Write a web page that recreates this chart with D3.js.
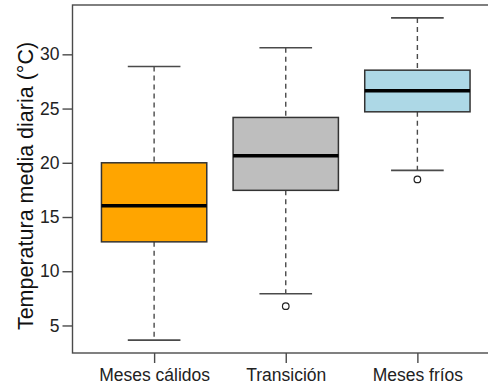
<!DOCTYPE html>
<html>
<head>
<meta charset="utf-8">
<script src="https://cdn.jsdelivr.net/npm/d3@7"></script>
<style>
  html, body { margin: 0; padding: 0; background: #fff; }
  svg { display: block; font-family: "Liberation Sans", Arial, sans-serif; }
</style>
</head>
<body>
<svg id="chart" width="488" height="387"></svg>
<script>
// Daily mean temperature by season group
const categories = ["Meses cálidos", "Transición", "Meses fríos"];
const lowerWhisker = [3.65, 7.92, 19.3];
const q1 = [12.71, 17.46, 24.7];
const median = [16.05, 20.65, 26.64];
const q3 = [20.0, 24.18, 28.54];
const upperWhisker = [28.88, 30.6, 33.36];
const outliers = [[], [6.78], [18.47]];
const fills = ["#FFA500", "#BEBEBE", "#ADD8E6"];
const yTicks = [5, 10, 15, 20, 25, 30];

const svg = d3.select("#chart");
const plot = { left: 72.5, top: 5, right: 499, bottom: 353 };

// R-style 4% padding around the data range
const allVals = lowerWhisker.concat(upperWhisker, outliers.flat());
const lo = d3.min(allVals), hi = d3.max(allVals);
const pad = (hi - lo) * 0.04;
const y = d3.scaleLinear().domain([lo - pad, hi + pad]).range([plot.bottom, plot.top]);
const x = d3.scaleLinear().domain([0.5 - 0.12, categories.length + 0.5 + 0.12]).range([plot.left, plot.right]);

const axisColor = "#4a4a4a";
const boxW = 0.8, capW = 0.4;

// plot frame
svg.append("rect")
  .attr("x", plot.left).attr("y", plot.top)
  .attr("width", plot.right - plot.left).attr("height", plot.bottom - plot.top)
  .attr("fill", "none").attr("stroke", axisColor).attr("stroke-width", 1.4);

// y axis
const yAxis = d3.axisLeft(y).tickValues(yTicks).tickSize(10).tickPadding(3).tickSizeOuter(0);
const gy = svg.append("g").attr("transform", `translate(${plot.left},0)`).call(yAxis);
gy.select(".domain").remove();
gy.selectAll("line").attr("stroke", axisColor).attr("stroke-width", 1.4);
gy.selectAll("text").attr("font-size", 17.5).attr("fill", "#222")
  .attr("font-family", "'Liberation Sans', Arial, sans-serif");

// x axis
const xAxis = d3.axisBottom(x).tickValues(categories.map((d, i) => i + 1))
  .tickFormat((d) => categories[d - 1]).tickSize(10).tickPadding(6).tickSizeOuter(0);
const gx = svg.append("g").attr("transform", `translate(0,${plot.bottom})`).call(xAxis);
gx.select(".domain").remove();
gx.selectAll("line").attr("stroke", axisColor).attr("stroke-width", 1.4);
gx.selectAll("text").attr("font-size", 17.5).attr("fill", "#222")
  .attr("font-family", "'Liberation Sans', Arial, sans-serif");

// y axis title
svg.append("text")
  .attr("transform", `translate(33,${(35 + 337) / 2}) rotate(-90)`)
  .attr("text-anchor", "middle")
  .attr("font-size", 21.5).attr("fill", "#111")
  .text("Temperatura media diaria (°C)");

// boxes
const groups = svg.append("g").selectAll("g").data(categories).join("g");
groups.each(function (d, i) {
  const g = d3.select(this);
  const cx = x(i + 1);
  const half = (x(boxW / 2) - x(0));
  const capHalf = (x(capW / 2) - x(0));
  // whiskers
  g.append("line").attr("x1", cx).attr("x2", cx)
    .attr("y1", y(upperWhisker[i])).attr("y2", y(q3[i]))
    .attr("stroke", axisColor).attr("stroke-width", 1.4).attr("stroke-dasharray", "5,4");
  g.append("line").attr("x1", cx).attr("x2", cx)
    .attr("y1", y(q1[i])).attr("y2", y(lowerWhisker[i]))
    .attr("stroke", axisColor).attr("stroke-width", 1.4).attr("stroke-dasharray", "5,4");
  // caps
  [upperWhisker[i], lowerWhisker[i]].forEach((v) => {
    g.append("line").attr("x1", cx - capHalf).attr("x2", cx + capHalf)
      .attr("y1", y(v)).attr("y2", y(v))
      .attr("stroke", axisColor).attr("stroke-width", 1.6);
  });
  // box
  g.append("rect")
    .attr("x", cx - half).attr("width", 2 * half)
    .attr("y", y(q3[i])).attr("height", y(q1[i]) - y(q3[i]))
    .attr("fill", fills[i]).attr("stroke", "#333").attr("stroke-width", 1.5);
  // median
  g.append("line").attr("x1", cx - half).attr("x2", cx + half)
    .attr("y1", y(median[i])).attr("y2", y(median[i]))
    .attr("stroke", "#000").attr("stroke-width", 3.5);
  // outliers
  g.selectAll("circle").data(outliers[i]).join("circle")
    .attr("cx", cx).attr("cy", (v) => y(v)).attr("r", 3.3)
    .attr("fill", "none").attr("stroke", "#222").attr("stroke-width", 1.2);
});
</script>
</body>
</html>
